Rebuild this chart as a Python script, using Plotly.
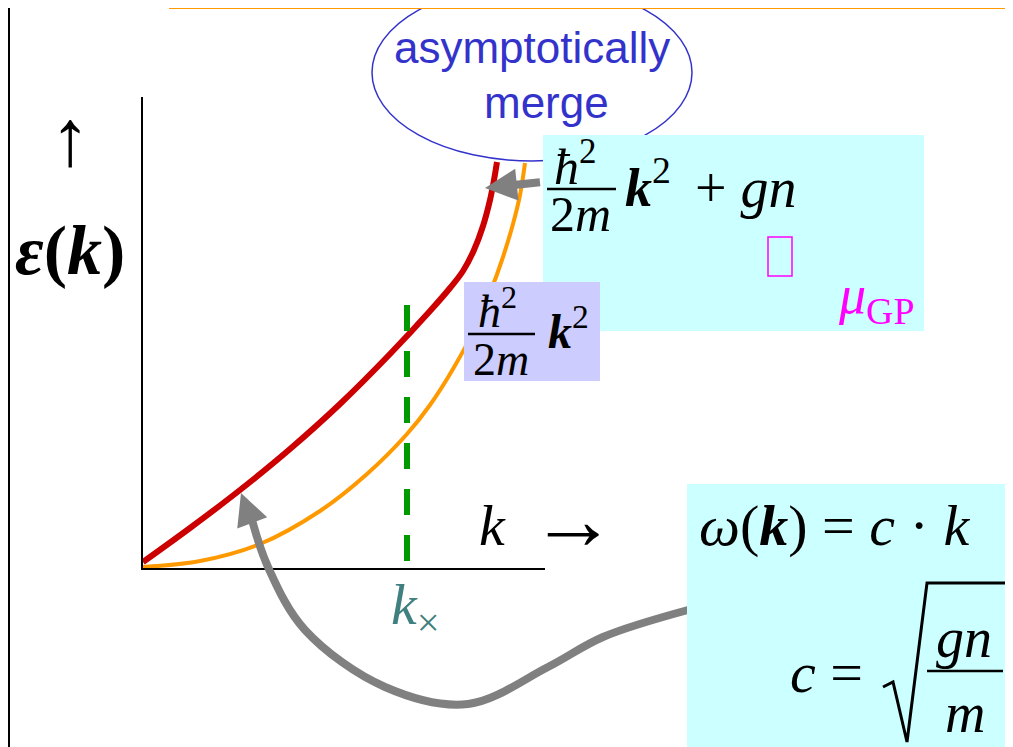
import plotly.graph_objects as go

# dispersion curves (k and energy in arbitrary units)
k_bogo = [0.00, 0.47, 0.97, 1.47, 1.97, 2.47, 2.87, 3.07, 3.20, 3.31, 3.40, 3.47, 3.51, 3.54]
e_bogo = [0.06, 0.40, 0.78, 1.19, 1.64, 2.14, 2.57, 2.80, 2.97, 3.18, 3.42, 3.68, 3.88, 4.06]

k_free = [0.00, 0.57, 1.17, 1.77, 2.24, 2.64, 2.87, 3.10, 3.32, 3.47, 3.60, 3.70, 3.77, 3.82]
e_free = [0.01, 0.07, 0.24, 0.57, 0.94, 1.34, 1.63, 1.99, 2.40, 2.75, 3.11, 3.44, 3.73, 4.05]

k_cross = 2.64
e_cross = [0.07, 2.65]

# gray connector from the c*k box back to the linear part (page pixels)
conn_x = [688, 603, 548, 468, 385, 305, 268, 252]
conn_y = [610, 637, 667, 704, 687, 630, 567, 520]

# the page puts the figure 8px in from the corner, so work in page pixels
OFF = 8
W, H = 1013, 747
SERIF = "Liberation Serif, DejaVu Serif, serif"
SANS = "Liberation Sans, Arial, sans-serif"
GRAY = "#808080"

fig = go.Figure()

fig.add_trace(go.Scatter(x=k_free, y=e_free, mode="lines", line=dict(color="#FF9900", width=4, shape="spline", smoothing=1.0),
                         hoverinfo="skip", showlegend=False))
fig.add_trace(go.Scatter(x=k_bogo, y=e_bogo, mode="lines", line=dict(color="#CC0000", width=6, shape="spline", smoothing=1.0),
                         hoverinfo="skip", showlegend=False))
fig.add_trace(go.Scatter(x=[k_cross, k_cross], y=e_cross, mode="lines", line=dict(color="#009900", width=6, dash="26px,20px"),
                         hoverinfo="skip", showlegend=False))
fig.add_trace(go.Scatter(x=conn_x, y=conn_y, mode="lines", line=dict(color=GRAY, width=8, shape="spline", smoothing=1.0),
                         xaxis="x2", yaxis="y2", hoverinfo="skip", showlegend=False))


def box(x0, y0, x1, y1, fill, line_color=None, width=0):
    fig.add_shape(type="rect", xref="x2", yref="y2", x0=x0, y0=y0, x1=x1, y1=y1, fillcolor=fill,
                  line=dict(color=line_color or fill, width=width), layer="above")


def bar(x0, x1, y, width=2.5):
    fig.add_shape(type="line", xref="x2", yref="y2", x0=x0, x1=x1, y0=y, y1=y,
                  line=dict(color="black", width=width), layer="above")


def text(x, y, s, size, color="black", family=SERIF):
    fig.add_annotation(xref="x2", yref="y2", x=x, y=y, text=s, showarrow=False,
                       font=dict(family=family, size=size, color=color), xanchor="center", yanchor="middle")


def arrow(x, y, ax, ay, width=8, size=0.8):
    fig.add_annotation(xref="x2", yref="y2", axref="x2", ayref="y2", x=x, y=y, ax=ax, ay=ay, text=" ",
                       showarrow=True, arrowhead=2, arrowwidth=width, arrowsize=size, arrowcolor=GRAY, standoff=0)


# slide border and the ellipse under the title box
fig.add_shape(type="line", xref="x2", yref="y2", x0=9, x1=9, y0=0, y1=H, line=dict(color="black", width=2))
fig.add_shape(type="circle", xref="x2", yref="y2", x0=372, x1=692, y0=-16, y1=161,
              line=dict(color="#3333CC", width=1.5), layer="above")
box(170, -20, 1030, 8, "white", "#FF9900", 2)

text(532, 47, "asymptotically", 44, "#3333CC", SANS)
text(546, 102, "merge", 44, "#3333CC", SANS)

# axis labels
text(70, 138, "↑", 80)
text(70, 250, "<b><i>ε</i>(<i>k</i>)</b>", 70)
text(492, 525, "<i>k</i>", 58)
text(573, 520, "→", 86)
text(415, 608, "<i>k</i><sub>×</sub>", 58, "#408080")

# upper cyan box: hbar^2 k^2 / 2m + gn ~ mu_GP
box(543, 135, 924, 331, "#CCFFFF")
text(575, 163, "<i>ħ</i><sup>2</sup>", 50)
bar(547, 616, 189)
text(580, 214, "2<i>m</i>", 50)
text(648, 183, "<b><i>k</i></b><sup>2</sup>", 54)
text(746, 188, "+ <i>gn</i>", 56)
fig.add_shape(type="rect", xref="x2", yref="y2", x0=768, x1=792, y0=237, y1=276,
              line=dict(color="#FF00FF", width=1.5), layer="above")
text(876, 298, "<i>μ</i><sub>GP</sub>", 54, "#FF00FF")
arrow(485, 188, 543, 182)

# purple box: free particle hbar^2 k^2 / 2m
box(464, 282, 600, 381, "#CCCCFF")
text(497, 308, "<i>ħ</i><sup>2</sup>", 46)
bar(468, 535, 334)
text(501, 359, "2<i>m</i>", 46)
text(568, 328, "<b><i>k</i></b><sup>2</sup>", 48)

# lower cyan box: phonon branch
box(687, 484, 1030, 760, "#CCFFFF")
text(834, 525, "<i>ω</i>(<b><i>k</i></b>) = <i>c</i> · <i>k</i>", 58)
text(826, 672, "<i>c</i> =", 58)
fig.add_shape(type="path", xref="x2", yref="y2", path="M 883,687 L 893,682 L 907,742 L 927,583 L 1008,583",
              line=dict(color="black", width=3), layer="above")
text(964, 638, "<i>gn</i>", 56)
bar(927, 1003, 671)
text(965, 713, "<i>m</i>", 56)

arrow(241, 493, 253, 525)

fig.update_layout(
    width=W - OFF, height=H - OFF, margin=dict(l=0, r=0, t=0, b=0),
    paper_bgcolor="white", plot_bgcolor="rgba(0,0,0,0)",
    xaxis=dict(domain=[(143 - OFF) / (W - OFF), (545 - OFF) / (W - OFF)], range=[0, 4.02],
               showline=True, linecolor="black", linewidth=1.5,
               showgrid=False, zeroline=False, showticklabels=False, ticks=""),
    yaxis=dict(domain=[(H - 568) / (H - OFF), (H - 97) / (H - OFF)], range=[0, 4.71],
               showline=True, linecolor="black", linewidth=1.5,
               showgrid=False, zeroline=False, showticklabels=False, ticks=""),
    xaxis2=dict(domain=[0, 1], range=[OFF, W], visible=False, anchor="y2"),
    yaxis2=dict(domain=[0, 1], range=[H, OFF], visible=False, anchor="x2"),
)

fig.write_html("out.html")
